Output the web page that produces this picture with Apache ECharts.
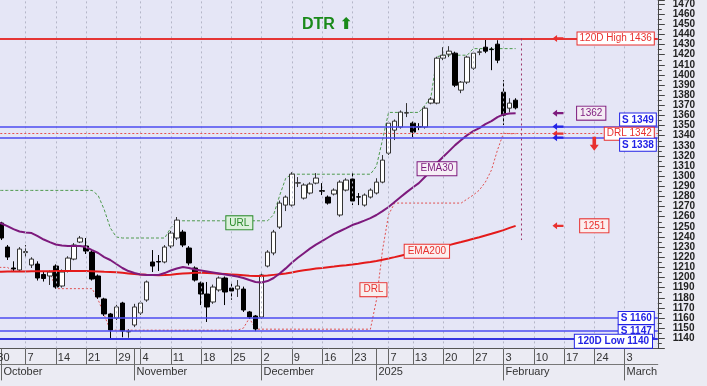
<!DOCTYPE html>
<html><head><meta charset="utf-8">
<script src="https://cdn.jsdelivr.net/npm/echarts@6/dist/echarts.min.js"></script>
<style>html,body{margin:0;padding:0;background:#ebebf3;}#c{width:707px;height:386px;}</style>
</head><body><div id="c"></div>
<script>
const dates = ['2024-09-30','2024-10-01','2024-10-02','2024-10-03','2024-10-04','2024-10-07','2024-10-08','2024-10-09','2024-10-10','2024-10-11','2024-10-14','2024-10-15','2024-10-16','2024-10-17','2024-10-18','2024-10-21','2024-10-22','2024-10-23','2024-10-24','2024-10-25','2024-10-29','2024-10-30','2024-10-31','2024-11-01','2024-11-04','2024-11-05','2024-11-06','2024-11-07','2024-11-08','2024-11-11','2024-11-12','2024-11-13','2024-11-14','2024-11-15','2024-11-18','2024-11-19','2024-11-20','2024-11-21','2024-11-22','2024-11-25','2024-11-26','2024-11-27','2024-11-28','2024-11-29','2024-12-02','2024-12-03','2024-12-04','2024-12-05','2024-12-06','2024-12-09','2024-12-10','2024-12-11','2024-12-12','2024-12-13','2024-12-16','2024-12-17','2024-12-18','2024-12-19','2024-12-20','2024-12-23','2024-12-24','2024-12-27','2024-12-30','2025-01-02','2025-01-03','2025-01-07','2025-01-08','2025-01-09','2025-01-10','2025-01-13','2025-01-14','2025-01-15','2025-01-16','2025-01-17','2025-01-20','2025-01-21','2025-01-22','2025-01-23','2025-01-24','2025-01-27','2025-01-28','2025-01-29','2025-01-30','2025-01-31','2025-02-03','2025-02-04','2025-02-05','2025-02-06','2025-02-07','2025-02-10','2025-02-11','2025-02-12','2025-02-13','2025-02-14','2025-02-17','2025-02-18','2025-02-19','2025-02-20','2025-02-21','2025-02-24','2025-02-25','2025-02-26','2025-02-27','2025-02-28','2025-03-03','2025-03-04','2025-03-05','2025-03-06','2025-03-07','2025-03-10'];

const opens = [1240,1253.8,1230.1,1209.4,1207.4,1224.6,1212.3,1213.3,1203.0,1201.5,
1211.3,1191.6,1206.4,1218.2,1235.0,1231.1,1225.1,1201.5,1178.8,1164.0,
1160.0,1174.8,1146.3,1153.1,1165.0,1177.8,1215.3,1215.8,1215.3,1231.1,
1239.0,1244.9,1229.1,1209.4,1194.6,1183.7,1175.8,1187.7,1199.5,1189.6,
1188.6,1188.6,1166.0,1162.0,1161.0,1211.3,1224.2,1249.8,1271.5,1271.5,
1293.2,1278.4,1283.4,1293.2,1285.7,1279.4,1282.4,1261.7,1286.3,1297.2,
1279.7,1271.5,1279.4,1283.4,1294.2,1322.8,1345.5,1348.5,1362.3,1352.4,
1348.9,1348.5,1372.2,1372.2,1416.6,1420.5,1421.5,1385.0,1392.9,1406.7,
1422.4,1427.4,1425.4,1430.4,1383.0,1367.2,1375.1];
const closes = [1250,1239.0,1220.2,1208.4,1228.1,1225.6,1218.2,1199.5,1199.0,1205.4,
1190.6,1205.4,1219.2,1232.1,1239.0,1226.1,1198.5,1180.8,1164.0,1148.2,
1170.9,1147.2,1146.8,1170.9,1174.8,1195.6,1211.3,1215.3,1230.1,1243.9,
1256.7,1232.1,1214.3,1197.5,1183.7,1170.9,1190.6,1199.5,1185.7,1186.7,
1191.6,1167.9,1161.0,1149.2,1202.5,1225.1,1244.9,1273.5,1279.4,1302.1,
1293.6,1291.3,1292.3,1298.2,1285.2,1273.5,1286.3,1294.2,1296.2,1275.5,
1279.4,1281.4,1286.3,1294.2,1315.9,1352.4,1354.4,1363.3,1362.8,1343.6,
1348.5,1367.2,1376.1,1416.6,1419.5,1423.5,1389.9,1392.9,1417.6,1421.5,
1422.8,1423.5,1425.0,1414.6,1360.3,1372.2,1367.54];
const lows = [1236,1237.0,1217.3,1206.4,1205.5,1220.2,1209.4,1197.0,1196.0,1192.6,
1189.0,1190.0,1205.0,1217.0,1234.0,1223.2,1197.0,1179.0,1162.0,1140.0,
1158.0,1141.0,1140.5,1151.0,1163.0,1176.0,1205.4,1206.4,1214.0,1229.0,
1237.0,1230.0,1212.0,1196.0,1172.8,1156.1,1174.0,1186.0,1172.8,1178.0,
1180.8,1166.0,1159.0,1147.0,1159.0,1210.0,1222.0,1248.0,1265.6,1270.0,
1289.3,1277.0,1282.0,1292.0,1281.4,1272.0,1281.0,1260.0,1285.0,1271.5,
1271.5,1270.0,1278.0,1282.0,1293.0,1321.0,1335.7,1347.0,1358.4,1338.6,
1345.5,1347.0,1371.0,1371.0,1414.6,1417.6,1388.0,1382.0,1391.0,1405.0,
1419.5,1421.5,1404.7,1411.6,1350.5,1363.0,1366.0];
const highs = [1254,1255.0,1232.1,1216.0,1230.0,1232.1,1220.0,1216.0,1206.0,1207.0,
1213.0,1208.0,1221.0,1234.0,1241.0,1239.0,1227.0,1203.0,1180.0,1165.0,
1173.0,1176.0,1149.0,1174.0,1177.0,1197.0,1227.1,1222.2,1232.0,1246.0,
1259.7,1247.0,1231.0,1211.0,1196.0,1195.6,1193.0,1201.0,1201.0,1194.0,
1197.5,1191.0,1167.0,1163.0,1204.0,1227.0,1247.0,1276.0,1281.0,1304.0,
1299.2,1293.0,1294.0,1303.1,1293.2,1281.0,1288.0,1296.0,1298.0,1304.1,
1283.4,1283.0,1288.0,1298.0,1320.9,1354.0,1356.0,1365.0,1372.2,1354.0,
1352.4,1369.0,1378.0,1418.0,1427.4,1428.4,1423.0,1394.0,1419.0,1423.0,
1425.5,1436.0,1427.4,1434.3,1394.9,1377.0,1377.0];

const ema30 = [1255.7,1253.3,1250.8,1247.8,1245.4,1244.4,1243.9,1240.9,1237.5,1235.0,
1232.6,1231.6,1231.1,1231.1,1231.1,1230.1,1227.1,1224.2,1220.2,1217.3,
1213.3,1209.4,1206.4,1204.4,1202.9,1202.5,1202.5,1202.5,1204.4,1206.9,
1208.9,1210.3,1209.4,1207.9,1206.9,1205.9,1204.9,1203.9,1202.9,1202.0,
1201.0,1199.5,1197.5,1195.6,1195.0,1196.5,1199.5,1204.0,1209.0,1214.5,
1219.5,1224.0,1228.5,1232.5,1236.0,1239.5,1243.0,1245.9,1248.8,1251.8,
1253.8,1256.2,1258.7,1261.7,1265.6,1269.6,1274.5,1279.4,1284.3,1288.8,
1293.2,1299.2,1305.1,1313.0,1318.9,1324.8,1330.7,1335.7,1340.6,1344.5,
1347.5,1351.4,1354.4,1358.4,1361.0,1362.0,1362.3];
const ema200 = [1205.8,1205.8,1205.9,1205.9,1206.0,1206.0,1206.1,1206.1,1206.2,1206.2,
1206.3,1206.3,1206.4,1206.4,1206.4,1206.4,1206.2,1206.0,1205.7,1205.5,
1205.2,1204.6,1204.0,1203.4,1203.0,1202.6,1202.4,1202.3,1202.4,1202.8,
1203.4,1203.9,1204.3,1204.6,1204.6,1204.4,1204.2,1203.8,1203.4,1203.0,
1202.6,1202.2,1201.8,1201.5,1201.5,1202.0,1202.6,1203.2,1203.9,1205.0,
1206.2,1207.1,1208.0,1208.9,1209.5,1210.2,1210.8,1211.5,1212.1,1212.8,
1213.6,1214.5,1215.4,1216.4,1217.6,1218.8,1220.1,1221.5,1222.9,1224.2,
1225.5,1226.8,1228.1,1229.4,1230.6,1232.0,1233.5,1235.0,1236.6,1238.2,
1239.8,1241.5,1243.2,1245.0,1246.8,1249.0,1251.0];
const urlLine = [1286,1286,1286,1286,1286,1286,1286,1286,1286,1286,
1286,1286,1286,1286,1286,1286,1286,1281,1267,1249,
1240,1239,1239,1239,1239,1239,1239,1239,1239,1249,
1256,1256,1256,1256,1256,1256,1256,1256,1256,1256,
1256,1256,1256,1256,1256,1256,1262,1281,1298,1302,
1302,1302,1302,1302,1302,1302,1302,1302,1302,1302,
1302,1302,1302,1310,1336,1363,1363,1363,1363,1363,
1363,1370,1378,1418,1419.5,1419.5,1419.5,1419.5,1419.5,1426,
1426,1426,1426,1426,1426,1426,1426];
const drlLine = [1210,1210,1210,1206,1206,1206,1206,1206,1206,1206,
1189,1189,1189,1189,1189,1189,1189,1178,1163,1148,
1148,1148,1148,1148,1148,1148,1148,1148,1148,1148,
1148,1148,1148,1148,1148,1148,1148,1148,1148,1148,
1148,1150,1160,1149,1149,1149,1149,1149,1149,1149,
1149,1149,1149,1149,1149,1149,1149,1149,1149,1149,
1149,1149,1149,1178,1227,1262,1273.5,1273.5,1273.5,1273.5,
1273.5,1273.5,1273.5,1273.5,1273.5,1273.5,1273.5,1273.5,1277.5,1281.4,
1286.3,1294.2,1306,1325.8,1342.6,1342,1342];

const weekStarts = ['2024-09-30','2024-10-07','2024-10-14','2024-10-21','2024-10-29','2024-11-04','2024-11-11','2024-11-18','2024-11-25','2024-12-02','2024-12-09','2024-12-16','2024-12-23','2025-01-07','2025-01-13','2025-01-20','2025-01-27','2025-02-03','2025-02-10','2025-02-17','2025-02-24','2025-03-03'];
const monthStarts = ['2024-10-01','2024-11-01','2024-12-02','2025-01-02','2025-02-03','2025-03-03'];
const monthNames = ['October','November','December','2025','February','March'];

const levelValues = [1436, 1349, 1342, 1338, 1160, 1140, 1147];
const levelNames = ['120D High', 'S', 'DRL', 'S', 'S', '120D Low', 'S'];
const arrowValues = [1436, 1349, 1342, 1338];

const FONT = 'Liberation Sans';
const RED = '#e8312f', BLUE = '#2323e6', PURPLE = '#7d1a7d', GREEN = '#2a8a2a';
const n = opens.length;
const lastClose = closes[n - 1];
const lastEma30 = ema30[n - 1];
const lastEma200 = ema200[n - 1];
const tickSet = new Set([...weekStarts, ...monthStarts]);
const labelSet = new Set(weekStarts);
const monthSet = new Set(monthStarts);
const candles = opens.map((o, i) => [o, closes[i], lows[i], highs[i]]);
const arrowCat = dates[93], boxCat = dates[98], todayCat = dates[87];
const arrowPath = 'path://M0,5 L5,0 L5,3.4 L12,3.4 L12,6.6 L5,6.6 L5,10 Z';
const downPath = 'path://M3,0 L7,0 L7,8 L10,8 L5,14 L0,8 L3,8 Z';

function levelStyle(name) {
  if (name === 'S') return {color: BLUE, line: {color: '#4b4bf0', width: 1.6, type: 'solid'}, bold: 'bold'};
  if (name === '120D Low') return {color: BLUE, line: {color: '#3535e0', width: 2, type: 'solid'}, bold: 'bold'};
  if (name === 'DRL') return {color: RED, line: {color: '#e85050', width: 1, type: [2, 2]}, bold: 'normal'};
  return {color: RED, line: {color: '#e53535', width: 2, type: 'solid'}, bold: 'normal'};
}
const levelPos = ['insideEnd', 'insideEndTop', 'insideEnd', 'insideEndBottom', 'insideEnd', 'none', 'insideEnd'];
const levelLines = levelValues.map((v, k) => {
  const s = levelStyle(levelNames[k]);
  const lab = {show: levelPos[k] !== 'none', position: levelPos[k] === 'none' ? 'insideEnd' : levelPos[k],
    distance: levelPos[k] === 'insideEnd' ? 4 : [2, 1], formatter: levelNames[k] + ' ' + v,
    color: s.color, fontWeight: s.bold, fontSize: 10, fontFamily: FONT, lineHeight: 11,
    backgroundColor: '#fff', borderColor: s.color, borderWidth: 1, padding: [1, 2, 0, 2]};
  return {yAxis: v, lineStyle: s.line, label: lab};
});
levelLines.push({
  yAxis: lastClose, lineStyle: {opacity: 0},
  label: {show: true, position: 'end', distance: 5, formatter: lastClose.toFixed(2), color: '#ff2a2a',
    fontWeight: 'bold', fontSize: 11, fontFamily: FONT, backgroundColor: '#000', padding: [2, 3, 1, 3]}
});

const arrowColors = [RED, BLUE, RED, BLUE];
const markers = arrowValues.map((v, k) => ({coord: [arrowCat, v], symbol: arrowPath, symbolSize: [11, 7],
  itemStyle: {color: arrowColors[k]}, label: {show: false}}));
markers.push({coord: [arrowCat, lastEma30], symbol: arrowPath, symbolSize: [11, 7], itemStyle: {color: PURPLE}, label: {show: false}});
markers.push({coord: [arrowCat, lastEma200], symbol: arrowPath, symbolSize: [11, 7], itemStyle: {color: RED}, label: {show: false}});
markers.push({coord: [dates[99], 1332], symbol: downPath, symbolSize: [9, 14], itemStyle: {color: RED}, label: {show: false}});
function box(cat, v, text, color, bg, off, weight) {
  return {coord: [cat, v], symbol: 'circle', symbolSize: 1, itemStyle: {color: 'rgba(0,0,0,0)'},
    label: {show: true, position: 'inside', offset: off || [0, 0], formatter: text, color: color, fontSize: 10, fontFamily: FONT,
      fontWeight: weight || 'normal', lineHeight: 11,
      backgroundColor: bg, borderColor: color, borderWidth: 1, padding: [2, 3, 0, 3]}};
}
markers.push(box(boxCat, lastEma30, String(Math.round(lastEma30)), PURPLE, '#f4ecf4', [3, 0]));
markers.push(box(dates[99], lastEma200, String(Math.round(lastEma200)), RED, '#fbeeee', [0, 0]));
markers.push(box(dates[40], 1254, 'URL', GREEN, '#dcf0dc', [2, 0]));
markers.push(box(dates[73], 1307.5, 'EMA30', PURPLE, '#f6eef6', [0, 0]));
markers.push(box(dates[71], 1226, 'EMA200', RED, '#fbeeee', [2, 0]));
markers.push(box(dates[62], 1188, 'DRL', RED, '#f8eeee', [3, 0]));
markers.push(box(dates[102], levelValues[5], levelNames[5] + ' ' + levelValues[5], BLUE, '#fff', [1, 3], 'bold'));

const chart = echarts.init(document.getElementById('c'), null, {renderer: 'canvas'});
chart.setOption({
  animation: false,
  backgroundColor: '#ebebf3',
  title: {text: 'DTR {a|⬆}', left: 297, top: 12,
    textStyle: {color: '#1a8a1a', fontSize: 16, fontWeight: 'bold', fontFamily: FONT,
      rich: {a: {color: '#1a8a1a', fontSize: 16, fontWeight: 'bold', fontFamily: 'DejaVu Sans'}}}},
  grid: {left: -7.7, right: 49.2, top: 0, bottom: 37.6, show: true, backgroundColor: '#e5e6f6', borderWidth: 0,
    containLabel: false, outerBoundsMode: 'none'},
  xAxis: [{
    type: 'category', data: dates, boundaryGap: true,
    axisLine: {lineStyle: {color: '#555', width: 1}},
    axisTick: {show: true, alignWithLabel: true, interval: (i, v) => tickSet.has(v), length: 16, lineStyle: {color: '#666'}},
    axisLabel: {interval: (i, v) => labelSet.has(v), formatter: v => String(parseInt(v.slice(8), 10)), align: 'left',
      padding: [0, 0, 0, 2], margin: 4, fontSize: 11, color: '#333', fontFamily: FONT, hideOverlap: false},
    splitLine: {show: false}
  }, {
    type: 'category', data: dates, boundaryGap: true, position: 'bottom', offset: 16,
    axisLine: {lineStyle: {color: '#777', width: 1}},
    axisTick: {show: true, alignWithLabel: true, interval: (i, v) => monthSet.has(v), length: 16, lineStyle: {color: '#666'}},
    axisLabel: {interval: (i, v) => monthSet.has(v), formatter: v => monthNames[monthStarts.indexOf(v)] || '', align: 'left',
      padding: [0, 0, 0, 2], margin: 2, fontSize: 11, color: '#333', fontFamily: FONT, hideOverlap: false},
    splitLine: {show: false}
  }],
  yAxis: {
    type: 'value', position: 'right', min: 1130, max: 1474, interval: 10, scale: true,
    splitLine: {show: false},
    axisLine: {show: true, lineStyle: {color: '#444'}},
    axisTick: {show: true, length: 7, lineStyle: {color: '#444'}},
    minorTick: {show: true, splitNumber: 2, length: 4, lineStyle: {color: '#444'}},
    axisLabel: {margin: 15, color: '#222', fontSize: 10, fontWeight: 'bold', fontFamily: FONT,
      formatter: v => String(v), showMaxLabel: false, showMinLabel: false}
  },
  series: [{
    type: 'line', name: 'grid', data: [], z: 1, silent: true,
    markLine: {silent: true, symbol: ['none', 'none'], label: {show: false},
      lineStyle: {color: '#b4b6c8', type: [2, 3], width: 1},
      data: weekStarts.slice(1).map(d => ({xAxis: d}))}
  }, {
    type: 'line', name: 'URL', data: urlLine, symbol: 'none', z: 2, silent: true,
    lineStyle: {color: '#4e9a4e', width: 1, type: [3, 2]}
  }, {
    type: 'line', name: 'DRL', data: drlLine, symbol: 'none', z: 2, silent: true,
    lineStyle: {color: '#e05050', width: 1, type: [2, 2]}
  }, {
    type: 'candlestick', name: 'DTR', data: candles, barWidth: 5, z: 3,
    itemStyle: {color: '#ffffff', color0: '#000000', borderColor: '#333', borderColor0: '#000', borderWidth: 1},
    markLine: {silent: true, symbol: ['none', 'none'], precision: 2, data: levelLines.concat([
      [{coord: [todayCat, 1436], lineStyle: {color: '#9b3366', type: [2, 3], width: 1}, label: {show: false}},
       {coord: [todayCat, 1237]}]
    ])},
    markPoint: {silent: true, data: markers}
  }, {
    type: 'line', name: 'EMA200', data: ema200, symbol: 'none', z: 4, silent: true,
    lineStyle: {color: '#e41a1a', width: 2}
  }, {
    type: 'line', name: 'EMA30', data: ema30, symbol: 'none', z: 4, silent: true,
    lineStyle: {color: PURPLE, width: 2}
  }]
});
</script></body></html>
